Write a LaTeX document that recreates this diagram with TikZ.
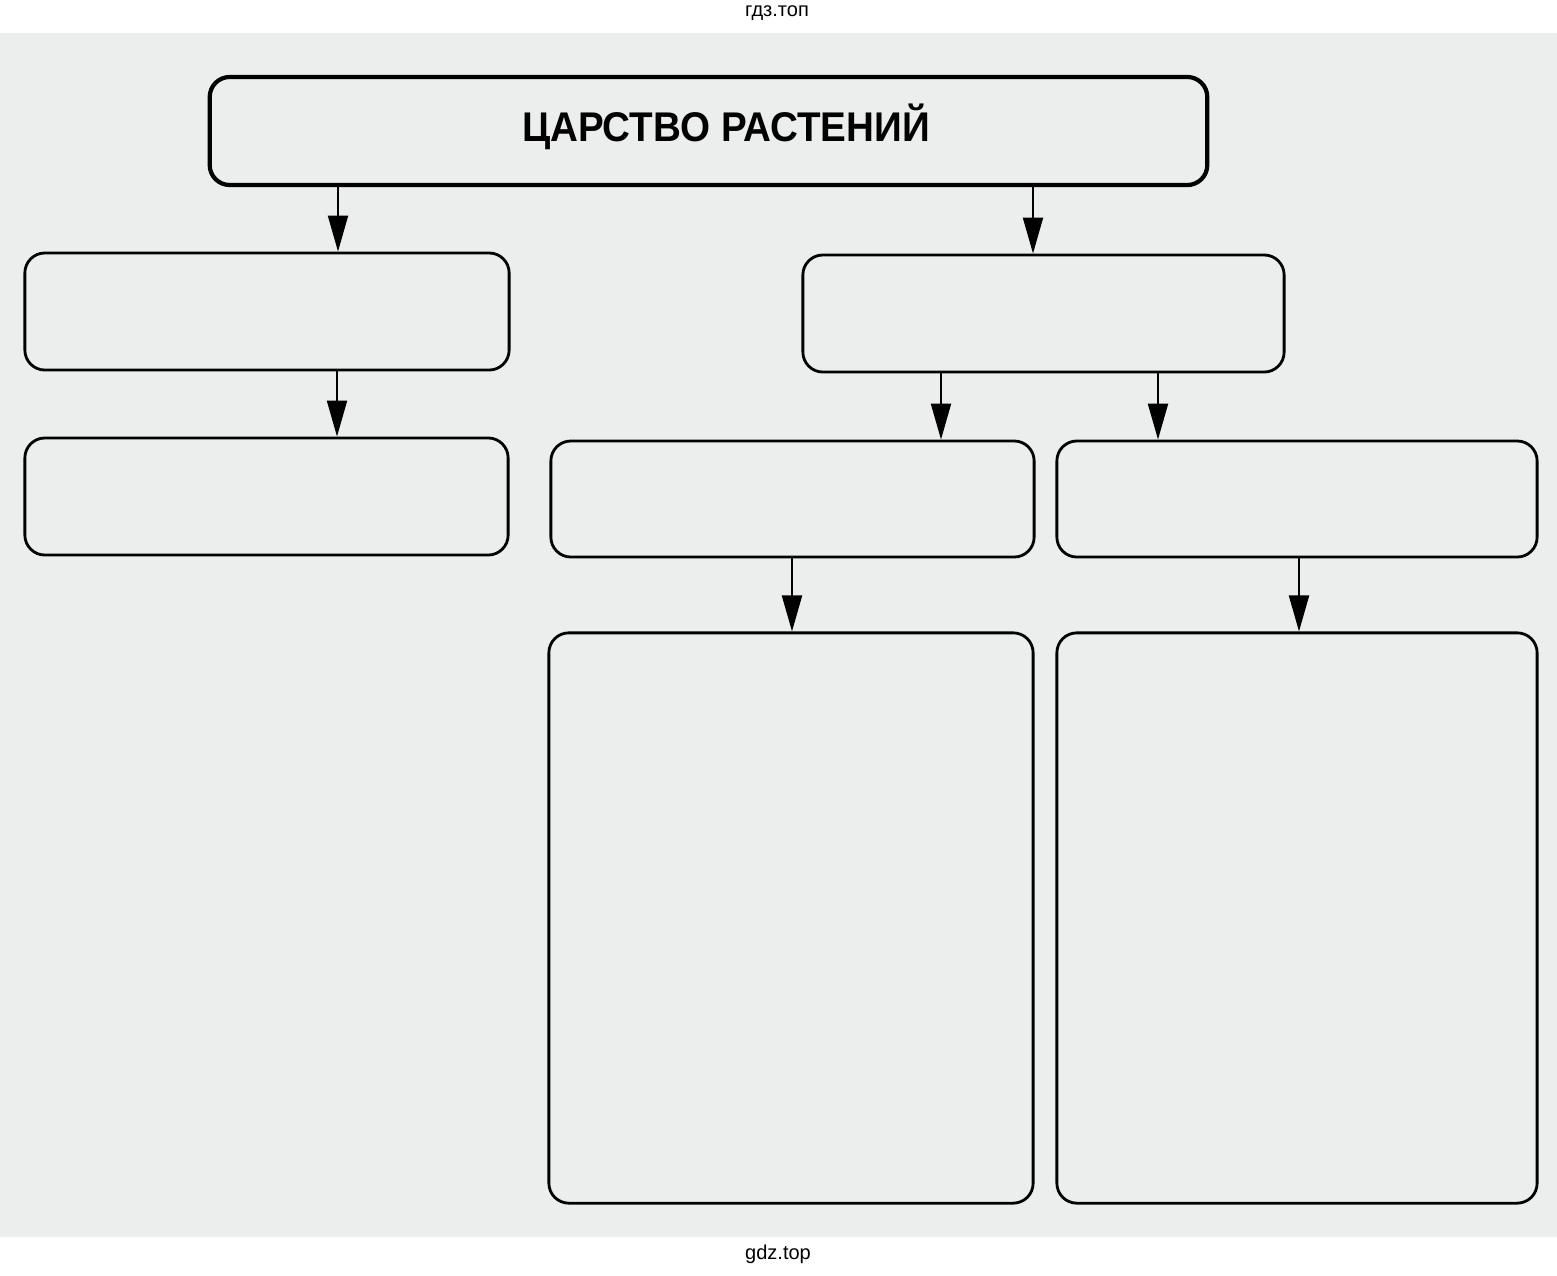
\documentclass[tikz,border=0pt]{standalone}
\usepackage{fontspec}
\setmainfont{Liberation Sans}
\usetikzlibrary{arrows.meta}
\definecolor{scan}{RGB}{236,238,238}

\tikzset{
  blank/.style={draw, rounded corners=0.2cm, line width=0.8pt, inner sep=0pt},
  link/.style={line width=0.6pt, -{Triangle[length=0.36cm,width=0.2cm]}},
}

\begin{document}
\begin{tikzpicture}[x=0.01cm, y=-0.01cm]
\useasboundingbox (0,0) rectangle (1557,1275);
\fill[scan] (0,33) rectangle (1557,1237);
%
\node[font=\fontsize{5.7}{7}\selectfont] (site) at (777,13) {гдз.топ};
\node[font=\fontsize{5.7}{7}\selectfont] (sitelat) at (778,1254) {gdz.top};
%
\node[blank, line width=1.2pt, minimum width=9.97cm, minimum height=1.08cm] (kingdom) at (708.5,131) {};
\node[font=\bfseries\fontsize{11.8}{14}\selectfont] (kingdomtext) at (726,127) {\scalebox{0.93}[1]{ЦАРСТВО РАСТЕНИЙ}};
%
\node[blank, minimum width=4.84cm, minimum height=1.17cm] (lefttwo) at (267,311.5) {};
\node[blank, minimum width=4.81cm, minimum height=1.17cm] (righttwo) at (1043.5,313.5) {};
%
\node[blank, minimum width=4.83cm, minimum height=1.17cm] (leftthree) at (266.5,496.5) {};
\node[blank, minimum width=4.83cm, minimum height=1.16cm] (midthree) at (792.5,499) {};
\node[blank, minimum width=4.80cm, minimum height=1.16cm] (rightthree) at (1297,499) {};
%
\node[blank, minimum width=4.84cm, minimum height=5.70cm] (midfour) at (791,918) {};
\node[blank, minimum width=4.80cm, minimum height=5.70cm] (rightfour) at (1297,918) {};
%
\draw[link] (338,0 |- kingdom.south) -- (338,0 |- lefttwo.north);
\draw[link] (1033,0 |- kingdom.south) -- (1033,0 |- righttwo.north);
\draw[link] (337,0 |- lefttwo.south) -- (337,0 |- leftthree.north);
\draw[link] (941,0 |- righttwo.south) -- (941,0 |- midthree.north);
\draw[link] (1158,0 |- righttwo.south) -- (1158,0 |- rightthree.north);
\draw[link] (792,0 |- midthree.south) -- (792,0 |- midfour.north);
\draw[link] (1299,0 |- rightthree.south) -- (1299,0 |- rightfour.north);
\end{tikzpicture}
\end{document}
